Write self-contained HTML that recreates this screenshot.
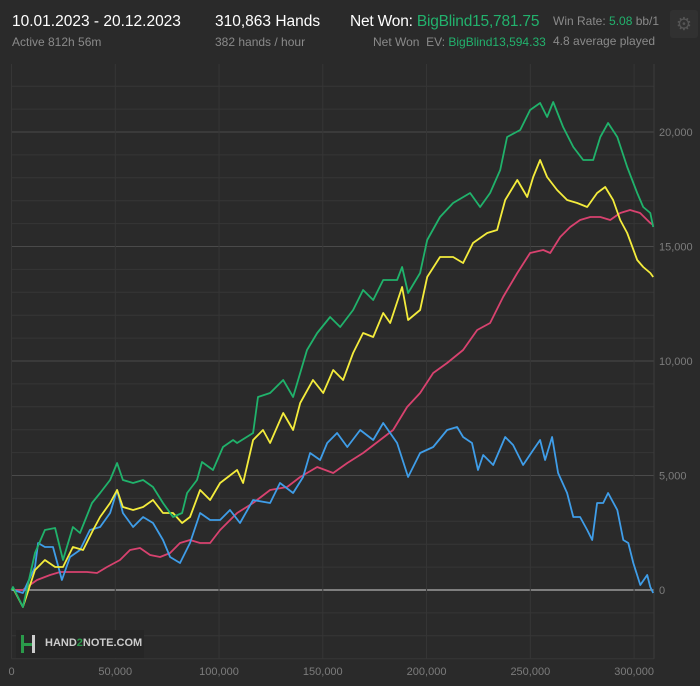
<!DOCTYPE html>
<html><head><meta charset="utf-8"><style>
body{margin:0;background:#2a2a2a;width:700px;height:686px;overflow:hidden;font-family:"Liberation Sans",sans-serif;}
.t{position:absolute;white-space:nowrap;}
</style></head><body>
<div style="position:absolute;left:0;top:0;width:700px;height:58px;">
<div class="t" style="left:12px;top:13px;font-size:15.5px;color:#fff;">10.01.2023 - 20.12.2023</div>
<div class="t" style="left:12px;top:35px;font-size:12px;color:#8a8a8a;">Active 812h 56m</div>
<div class="t" style="left:215px;top:13px;font-size:15.5px;color:#fff;">310,863 Hands</div>
<div class="t" style="left:215px;top:35px;font-size:12px;color:#8a8a8a;">382 hands / hour</div>
<div class="t" style="left:350px;top:13px;font-size:15.5px;color:#fff;letter-spacing:-0.2px">Net Won: <span style="color:#22b26d">BigBlind15,781.75</span></div>
<div class="t" style="left:373px;top:35px;font-size:12px;color:#8a8a8a;">Net Won&nbsp; EV: <span style="color:#22b26d">BigBlind13,594.33</span></div>
<div class="t" style="left:553px;top:14px;font-size:12px;color:#8a8a8a;">Win Rate: <span style="color:#22b26d">5.08</span> bb/1</div>
<div class="t" style="left:553px;top:34px;font-size:12px;color:#8a8a8a;">4.8 average played</div>
<div style="position:absolute;left:670px;top:10px;width:28px;height:28px;border-radius:3px;background:#313131;color:#555;font-size:18px;text-align:center;line-height:28px;">⚙</div>
</div>
<svg id="chart" width="700" height="686" style="position:absolute;left:0;top:0"></svg>
<div style="position:absolute;left:16px;top:630px;width:128px;height:28px;background:#262626;">
<div style="position:absolute;left:5px;top:5px;width:3px;height:18px;background:#2a9a4a"></div>
<div style="position:absolute;left:5px;top:13px;width:14px;height:3px;background:#2a9a4a"></div>
<div style="position:absolute;left:16px;top:5px;width:3px;height:18px;background:#ccc"></div>
<div class="t" style="left:29px;top:7px;font-size:11px;font-weight:bold;color:#ccc;">HAND<span style="color:#2a9a4a">2</span>NOTE.COM</div>
</div>
<script>
const xTicks=[0,50000,100000,150000,200000,250000,300000];
const yTicks=[0,5000,10000,15000,20000];
const greenH=[0,0.7,5.5,11.3,16.1,21.0,24.8,29.6,33.0,38.8,42.7,47.5,50.9,53.7,58.6,63.4,68.2,73.0,77.8,82.2,84.6,89.4,91.8,97.1,101.9,106.8,108.7,116.4,118.8,124.6,130.9,135.7,142.4,147.3,153.5,158.4,164.6,169.4,174.3,179.1,185.8,188.2,191.1,196.9,200.3,206.5,212.8,221.0,225.8,230.6,235.5,238.8,245.1,249.9,254.7,258.1,261.0,265.8,270.7,275.5,280.3,283.7,287.5,291.9,296.7,301.5,304.4,307.8,309.2];
const greenV=[0,131,-742,1616,2620,2708,1310,2751,2489,3799,4236,4804,5546,4804,4673,4804,4498,3799,3188,3363,4236,4804,5590,5240,6245,6551,6419,6856,8428,8603,9171,8428,10481,11223,11922,11485,12228,13101,12664,13538,13538,14105,12970,13843,15285,16289,16900,17337,16726,17337,18341,19783,20088,20962,21267,20656,21311,20219,19346,18778,18778,19783,20394,19783,18472,17337,16726,16463,15852];
const yellowH=[0,0.7,5.5,11.3,16.1,21.0,24.8,29.6,34.5,39.3,42.7,47.5,50.9,53.7,58.6,63.4,68.2,73.0,77.8,82.2,86.0,90.9,95.7,100.5,108.7,111.6,116.4,121.2,124.6,130.9,135.7,139.1,145.3,150.2,155.0,159.8,164.6,169.4,174.3,179.1,182.5,188.2,191.1,196.9,200.3,206.5,212.8,217.6,222.4,229.2,234.0,237.9,243.7,248.5,251.4,254.7,258.1,262.9,267.7,272.6,277.4,282.2,286.1,289.9,293.3,296.7,301.5,304.4,307.8,309.2];
const yellowV=[0,87,-742,873,1310,1004,1004,1878,1747,2620,3188,3799,4367,3625,3494,3625,3930,3363,3363,2926,3188,4367,3930,4673,5240,4673,6551,6987,6419,7730,6987,8166,9171,8603,9607,9171,10350,11223,11048,12096,11660,13232,11791,12228,13669,14542,14542,14280,15154,15591,15722,17031,17905,17162,18036,18778,18036,17468,17031,16900,16726,17337,17599,17031,16158,15591,14411,14105,13843,13669];
const redH=[0,0.7,5.5,12.3,18.6,23.4,29.6,36.4,41.2,46.0,52.3,57.1,61.9,66.8,71.6,76.4,81.2,86.0,90.9,95.7,100.5,108.7,116.4,124.6,132.8,139.1,147.3,155.0,161.8,169.4,177.6,183.9,190.6,196.9,203.2,209.9,217.6,224.4,230.6,236.9,243.7,249.9,256.2,259.6,264.4,269.2,274.0,278.9,283.7,288.5,293.3,298.1,302.9,307.8,309.2];
const redV=[0,0,0,437,655,786,786,786,742,1004,1310,1747,1834,1528,1441,1616,2052,2184,2052,2052,2620,3363,3799,4367,4498,4935,5371,5109,5546,5983,6551,6987,7992,8603,9476,9913,10481,11354,11660,12795,13843,14717,14848,14717,15416,15852,16158,16289,16289,16158,16463,16594,16463,16027,15940];
const blueH=[0,0.7,5.5,11.3,12.8,16.1,20.0,24.3,28.2,33.0,37.8,42.7,47.5,50.9,53.7,58.6,63.4,68.2,73.0,76.4,81.2,86.0,90.9,95.7,100.5,105.3,110.1,116.4,124.6,129.4,135.7,140.5,143.9,148.7,152.1,156.9,161.8,168.0,174.3,179.1,185.8,191.1,196.9,203.2,209.9,214.7,217.6,221.9,224.8,227.3,232.1,237.9,241.7,246.5,251.4,254.7,257.1,260.5,263.4,267.7,270.7,274.0,277.4,279.8,282.2,285.1,287.5,291.9,294.8,297.2,299.6,303.0,306.3,307.8,309.2];
const blueV=[0,0,-131,1004,2052,1878,1878,437,1441,1747,2620,2751,3363,4367,3363,2751,3188,2926,2184,1441,1179,2052,3363,3057,3057,3494,2926,3930,3799,4673,4236,4935,5983,5677,6419,6856,6245,6987,6551,7293,6419,4935,5983,6245,6987,7118,6681,6419,5240,5895,5459,6681,6332,5459,6114,6551,5677,6681,5109,4236,3188,3188,2620,2184,3799,3799,4236,3494,2184,2052,1179,218,655,131,-131];
const NS='http://www.w3.org/2000/svg';
const svg=document.getElementById('chart');
const L=11.5,R=654,T=64,B=658.7,Y0=590,PX1000=22.9;
const xs=k=>L+k*2.0753;
const ys=v=>Y0-v*PX1000/1000;
function mk(tag,attrs){const e=document.createElementNS(NS,tag);for(const k in attrs)e.setAttribute(k,attrs[k]);svg.appendChild(e);return e;}
for(let v=-3000;v<=22000;v+=1000){
 const y=ys(v);
 const major=v%5000===0;
 const g=mk('line',{x1:L,x2:R,y1:y,y2:y,stroke:v===0?'#9a9a9a':(major?'#4a4a4a':'#363636'),'stroke-width':v===0?1.5:1});
 
 
}
xTicks.forEach(t=>{
 const x=xs(t/1000);
 const g=mk('line',{x1:x,x2:x,y1:T,y2:B,stroke:'#363636'});
 
 
 const tx=mk('text',{x:x,y:675,'font-size':11,fill:'#7c7c7c','text-anchor':'middle','font-family':'Liberation Sans, sans-serif'});
 tx.textContent=t.toLocaleString('en-US');
 
 
});
mk('line',{x1:R,x2:R,y1:T,y2:B,stroke:'#3c3c3c'});
yTicks.forEach(t=>{
 const tx=mk('text',{x:659,y:ys(t)+4,'font-size':11,fill:'#7c7c7c','font-family':'Liberation Sans, sans-serif'});
 tx.textContent=t.toLocaleString('en-US');
 
 
});
function line(H,V,color,name){
 const p=mk('polyline',{points:H.map((h,i)=>xs(h).toFixed(1)+','+ys(V[i]).toFixed(1)).join(' '),fill:'none',stroke:color,'stroke-width':1.8,'stroke-linejoin':'round'});
 
 
}
line(redH,redV,'#d8426f','series-ev-allin-line');
line(blueH,blueV,'#3f9de8','series-showdown-line');
line(yellowH,yellowV,'#f4ec3c','series-ev-line');
line(greenH,greenV,'#20b26b','series-net-won-line');
</script>
</body></html>
